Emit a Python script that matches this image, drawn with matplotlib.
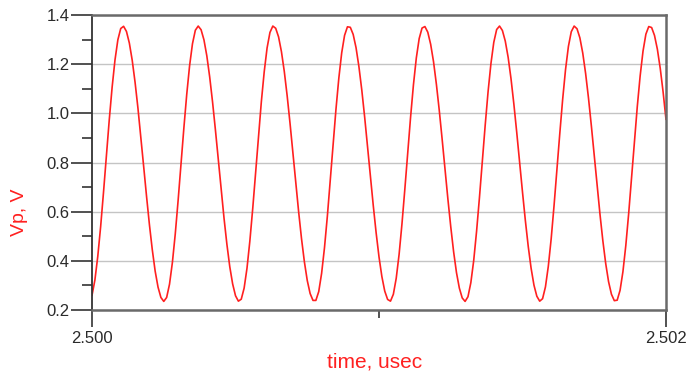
import matplotlib
matplotlib.use("Agg")
import matplotlib.pyplot as plt
import numpy as np
from matplotlib.ticker import MultipleLocator, FixedLocator

# time axis: 201 samples, 0.01 ns step between 2.500 and 2.502 usec
t_start = 2.500
t_stop = 2.502
n_samples = 201

# Vp, one value per sample
vp = [
    0.260, 0.322, 0.418, 0.539, 0.679, 0.827, 0.973, 1.106, 1.217, 1.299,
    1.345, 1.354, 1.333, 1.286, 1.216, 1.126, 1.021, 0.904, 0.783, 0.662,
    0.547, 0.445, 0.358, 0.293, 0.251, 0.235, 0.251, 0.305, 0.393, 0.509,
    0.646, 0.793, 0.940, 1.077, 1.194, 1.283, 1.338, 1.355, 1.340, 1.299,
    1.234, 1.148, 1.046, 0.932, 0.811, 0.689, 0.573, 0.467, 0.376, 0.306,
    0.258, 0.236, 0.244, 0.289, 0.370, 0.481, 0.613, 0.759, 0.907, 1.047,
    1.169, 1.266, 1.329, 1.355, 1.346, 1.311, 1.251, 1.170, 1.071, 0.959,
    0.839, 0.717, 0.599, 0.490, 0.396, 0.320, 0.267, 0.239, 0.239, 0.275,
    0.349, 0.453, 0.581, 0.725, 0.873, 1.016, 1.143, 1.246, 1.317, 1.352,
    1.350, 1.321, 1.267, 1.190, 1.095, 0.985, 0.867, 0.745, 0.625, 0.514,
    0.416, 0.336, 0.277, 0.243, 0.236, 0.264, 0.329, 0.426, 0.550, 0.691,
    0.839, 0.984, 1.116, 1.225, 1.304, 1.347, 1.353, 1.330, 1.281, 1.210,
    1.118, 1.012, 0.895, 0.773, 0.652, 0.539, 0.437, 0.352, 0.289, 0.249,
    0.235, 0.254, 0.311, 0.401, 0.520, 0.657, 0.805, 0.951, 1.087, 1.202,
    1.289, 1.341, 1.355, 1.337, 1.294, 1.228, 1.141, 1.037, 0.922, 0.801,
    0.680, 0.564, 0.459, 0.370, 0.301, 0.256, 0.236, 0.246, 0.294, 0.378,
    0.490, 0.625, 0.771, 0.918, 1.057, 1.178, 1.272, 1.332, 1.355, 1.344,
    1.307, 1.245, 1.162, 1.062, 0.949, 0.829, 0.707, 0.590, 0.482, 0.389,
    0.315, 0.264, 0.238, 0.240, 0.280, 0.356, 0.462, 0.592, 0.736, 0.885,
    1.027, 1.152, 1.253, 1.322, 1.353, 1.349, 1.317, 1.261, 1.183, 1.087,
    0.976,
]

time_us = np.linspace(t_start, t_stop, n_samples)

plt.rcParams['font.family'] = ['Liberation Sans', 'DejaVu Sans']

fig = plt.figure(figsize=(6.93, 3.74), dpi=100)
ax = fig.add_axes([0.1328, 0.1711, 0.961 - 0.1328, 0.9599 - 0.1711])

ax.plot(time_us, vp, color='#ff2020', linewidth=1.2)

ax.set_xlim(t_start, t_stop)
ax.set_ylim(0.2, 1.4)

# y ticks: labelled every 0.2, small ones in between
ax.yaxis.set_major_locator(MultipleLocator(0.2))
ax.yaxis.set_minor_locator(MultipleLocator(0.1))
ax.yaxis.set_major_formatter(matplotlib.ticker.FormatStrFormatter('%.1f'))
ax.tick_params(axis='y', which='major', direction='out', length=15, width=1.2,
               color='#333333', labelsize=12, labelcolor='#2a2a2a', pad=1)
ax.tick_params(axis='y', which='minor', direction='out', length=7, width=1.2,
               color='#333333')

# x ticks: only the ends get labels
ax.xaxis.set_major_locator(FixedLocator([2.500, 2.502]))
ax.xaxis.set_minor_locator(FixedLocator([2.501]))
ax.xaxis.set_major_formatter(matplotlib.ticker.FormatStrFormatter('%.3f'))
ax.tick_params(axis='x', which='major', direction='out', length=12, width=1.2,
               color='#333333', labelsize=12, labelcolor='#2a2a2a', pad=3)
ax.tick_params(axis='x', which='minor', direction='out', length=6, width=1.2,
               color='#333333')

ax.grid(True, axis='y', which='major', color='#c4c4c4', linewidth=1)
ax.set_axisbelow(True)

for side in ['top', 'right', 'bottom']:
    ax.spines[side].set_color('#6a6a6a')
    ax.spines[side].set_linewidth(1.8)
ax.spines['left'].set_color('#333333')
ax.spines['left'].set_linewidth(1.3)

fig.text(0.028, 0.433, 'Vp, V', color='#ff2020', fontsize=14,
         rotation=90, ha='center', va='center')
fig.text(0.541, 0.033, 'time, usec', color='#ff2020', fontsize=15,
         ha='center', va='center')

fig.savefig('out.png', dpi=100)
